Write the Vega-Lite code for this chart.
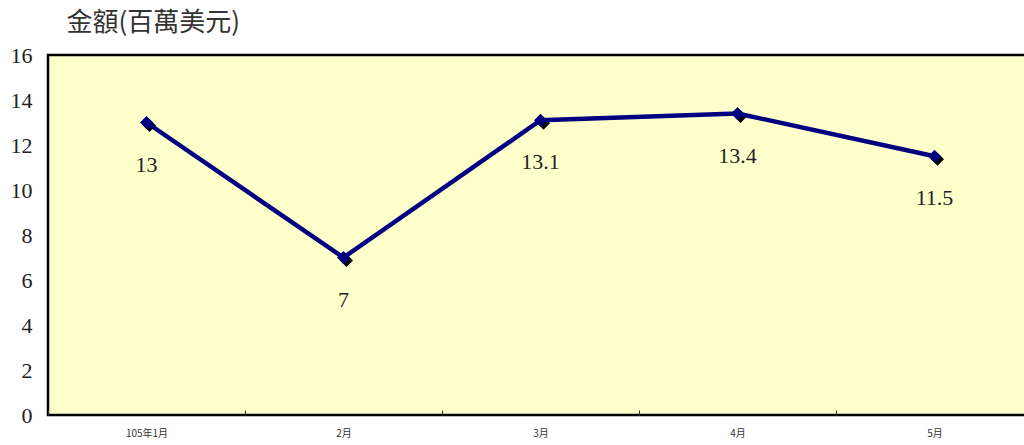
{
  "$schema": "https://vega.github.io/schema/vega-lite/v6.json",
  "autosize": "none",
  "width": 985,
  "height": 360,
  "padding": {"left": 48, "top": 55, "right": 0, "bottom": 30},
  "background": "white",
  "config": {
    "view": {"stroke": "black", "strokeWidth": 2.5, "fill": "#FFFFCC"},
    "font": "Liberation Serif"
  },
  "data": {
    "values": [
      {"month": "105年1月", "value": 13, "label": "13"},
      {"month": "2月", "value": 7, "label": "7"},
      {"month": "3月", "value": 13.1, "label": "13.1"},
      {"month": "4月", "value": 13.4, "label": "13.4"},
      {"month": "5月", "value": 11.5, "label": "11.5"}
    ]
  },
  "encoding": {
    "x": {
      "field": "month", "type": "nominal", "sort": null,
      "scale": {"type": "band", "paddingInner": 0, "paddingOuter": 0},
      "axis": {
        "title": null, "domain": false, "labelAngle": 0,
        "labelFont": "Noto Sans CJK TC", "labelFontSize": 10, "labelColor": "#333",
        "tickBand": "extent", "tickSize": -5, "tickColor": "#333", "tickWidth": 1,
        "labelPadding": 18
      }
    },
    "y": {
      "field": "value", "type": "quantitative",
      "scale": {"domain": [0, 16], "nice": false},
      "axis": {
        "values": [0, 2, 4, 6, 8, 10, 12, 14, 16],
        "grid": false, "domain": false, "ticks": false,
        "labelFont": "Liberation Serif", "labelFontSize": 22, "labelColor": "#222",
        "labelPadding": 16,
        "title": "金額(百萬美元)", "titleAngle": 0, "titleAlign": "left",
        "titleBaseline": "middle", "titleX": 18, "titleY": -33,
        "titleFont": "Noto Sans CJK TC", "titleFontSize": 26, "titleFontWeight": "normal",
        "titleColor": "#333"
      }
    }
  },
  "layer": [
    {"mark": {"type": "point", "shape": "diamond", "filled": true, "color": "black", "size": 170, "opacity": 1, "xOffset": 3, "yOffset": 3}},
    {"mark": {"type": "line", "color": "#000080", "strokeWidth": 4.5}},
    {"mark": {"type": "point", "shape": "diamond", "filled": true, "color": "#000080", "size": 170, "opacity": 1}},
    {"mark": {"type": "text", "dy": 42, "fontSize": 22, "color": "#222", "font": "Liberation Serif"},
     "encoding": {"text": {"field": "label"}}}
  ]
}
